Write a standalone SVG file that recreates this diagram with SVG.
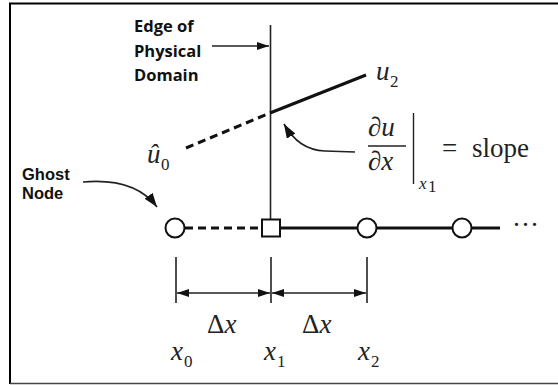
<svg xmlns="http://www.w3.org/2000/svg" width="558" height="385" viewBox="0 0 558 385">
<defs>
<marker id="ah" viewBox="0 0 12 8" refX="12" refY="4" markerWidth="12" markerHeight="8" markerUnits="userSpaceOnUse" orient="auto-start-reverse">
<path d="M0,0 L12,4 L0,8 Z" fill="#111"/>
</marker>
<marker id="ahc" viewBox="0 0 14 10" refX="14" refY="5" markerWidth="14" markerHeight="10" markerUnits="userSpaceOnUse" orient="auto">
<path d="M0,0 L14,5 L0,10 Z" fill="#111"/>
</marker>
</defs>
<style>
.lbl{font-family:"Open Sans","Liberation Sans",Arial,sans-serif;font-weight:bold;font-size:16.5px;fill:#111}
.lbl2{font-family:"Liberation Sans",Arial,sans-serif;font-weight:bold;font-size:16.5px;fill:#111}
.m{font-family:"Liberation Serif","Times New Roman",serif;font-size:27px;fill:#222}
.mi{font-style:italic}
.sub{font-family:"Liberation Serif","Times New Roman",serif;font-size:17px;fill:#222}
.thick{stroke:#111;stroke-width:3;fill:none}
.thin{stroke:#222;stroke-width:1.6;fill:none}
.node{fill:#fff;stroke:#111;stroke-width:2}
</style>
<rect width="558" height="385" fill="#fff"/>
<path d="M10,384 L10,3.5 L558,3.5" fill="none" stroke="#000" stroke-width="2"/>
<line x1="10" y1="383.5" x2="558" y2="383.5" stroke="#444" stroke-width="1.5"/>

<g id="connectors">
<line class="thick" x1="185" y1="228" x2="262" y2="228" stroke-dasharray="8,5"/>
<line class="thick" x1="280" y1="228" x2="500" y2="228"/>
<line class="thin" x1="270.5" y1="25" x2="270.5" y2="220"/>
<line class="thick" x1="186" y1="148" x2="270" y2="113" stroke-dasharray="8,5"/>
<line class="thick" x1="270" y1="113" x2="366" y2="75"/>
<line class="thin" x1="212" y1="46" x2="269" y2="46" marker-end="url(#ah)"/>
<path class="thin" d="M355,152 L325,151 C306,150 294,141 284,124" stroke-width="2" marker-end="url(#ahc)"/>
<path class="thin" d="M83,182 C118,179 142,187 157,207" stroke-width="2.2" marker-end="url(#ahc)"/>
<line class="thin" x1="176" y1="257" x2="176" y2="303"/>
<line class="thin" x1="271" y1="257" x2="271" y2="303"/>
<line class="thin" x1="367" y1="257" x2="367" y2="303"/>
<line class="thin" x1="177" y1="293" x2="270" y2="293" marker-start="url(#ah)" marker-end="url(#ah)"/>
<line class="thin" x1="272" y1="293" x2="366" y2="293" marker-start="url(#ah)" marker-end="url(#ah)"/>
</g>

<g id="node-x0"><circle class="node" cx="175" cy="228" r="9.5"/></g>
<g id="node-x1"><rect class="node" x="262" y="219.5" width="18" height="17"/></g>
<g id="node-x2"><circle class="node" cx="367" cy="228" r="9.5"/></g>
<g id="node-x3"><circle class="node" cx="462" cy="228" r="9.5"/></g>
<g id="dots"><text class="m" x="512" y="234" font-size="22">···</text></g>

<g id="label-edge">
<text class="lbl" x="134" y="32">Edge of</text>
<text class="lbl" x="134" y="57">Physical</text>
<text class="lbl" x="134" y="81">Domain</text>
</g>
<g id="label-ghost">
<text class="lbl2" x="22" y="180">Ghost</text>
<text class="lbl2" x="22" y="199">Node</text>
</g>

<g id="label-u0">
<text class="m mi" x="147" y="163">û</text>
<text class="sub" x="161" y="170">0</text>
</g>
<g id="label-u2">
<text class="m mi" x="376" y="80">u</text>
<text class="sub" x="390" y="87">2</text>
</g>
<g id="label-slope">
<text class="m" x="368" y="136"><tspan class="mi">∂u</tspan></text>
<line x1="368" y1="146" x2="406" y2="146" stroke="#222" stroke-width="1.4"/>
<text class="m" x="368" y="170"><tspan class="mi">∂x</tspan></text>
<line x1="413.5" y1="113" x2="413.5" y2="184" stroke="#222" stroke-width="1.4"/>
<text class="sub mi" x="419" y="189">x</text>
<text class="sub" x="428" y="192" font-size="13">1</text>
<text class="m" x="442" y="157">=</text>
<text class="m" x="472" y="157" font-size="32">slope</text>
</g>

<g id="label-dx">
<text class="m" x="207" y="333">Δ<tspan class="mi">x</tspan></text>
<text class="m" x="302" y="333">Δ<tspan class="mi">x</tspan></text>
</g>
<g id="label-x">
<text class="m mi" x="171" y="360">x</text><text class="sub" x="184" y="367">0</text>
<text class="m mi" x="264" y="360">x</text><text class="sub" x="277" y="367">1</text>
<text class="m mi" x="358" y="360">x</text><text class="sub" x="371" y="367">2</text>
</g>
</svg>
